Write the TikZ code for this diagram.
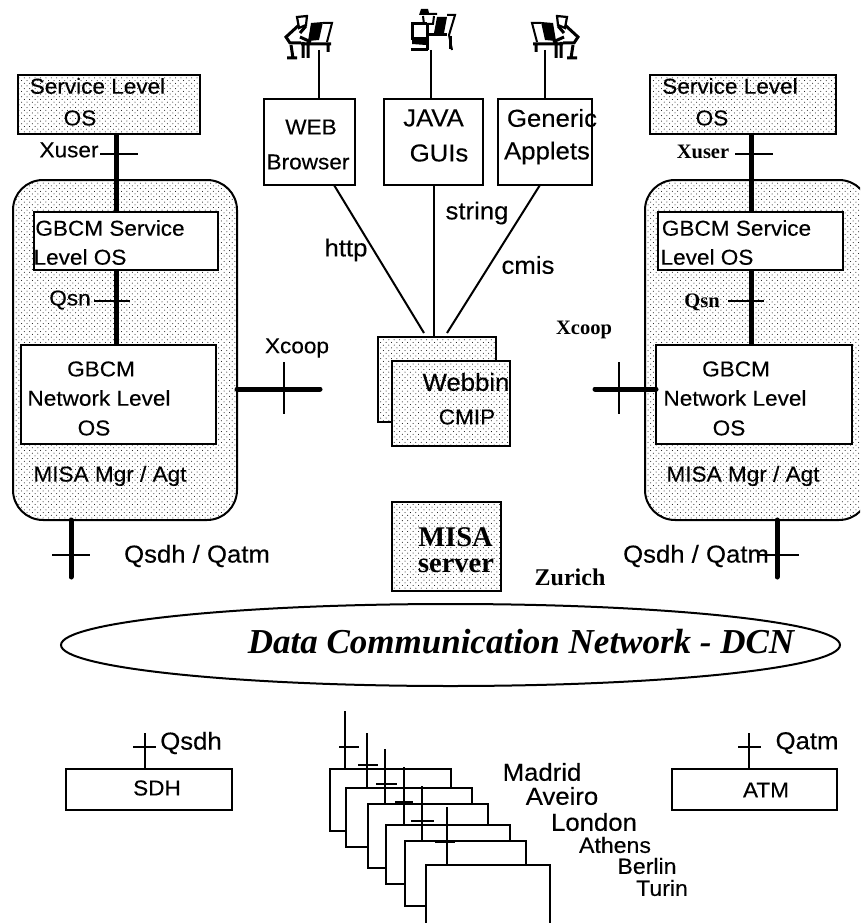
\documentclass[tikz,border=0pt]{standalone}
\usepackage{fontspec}
\setmainfont{Liberation Serif}
\newfontfamily\widesans[FakeStretch=1.05,FakeBold=0.25]{Liberation Sans}
\usetikzlibrary{patterns,shapes.geometric}
\pgfdeclarepatternformonly{misadots}{\pgfqpoint{-1pt}{-1pt}}{\pgfqpoint{4pt}{4pt}}{\pgfqpoint{5.4pt}{5.4pt}}{
  \pgfpathcircle{\pgfqpoint{0pt}{0pt}}{0.5pt}
  \pgfpathcircle{\pgfqpoint{2.7pt}{2.7pt}}{0.5pt}
  \pgfusepath{fill}
}
\tikzset{
  plainbox/.style={draw, line width=2pt, fill=white, inner sep=0pt, outer sep=0pt},
  dotbox/.style={plainbox, preaction={fill=white}, fill=none, pattern=misadots, pattern color=black},
  bus/.style={line width=5pt},
  wire/.style={line width=2pt},
  sanslabel/.style={inner sep=0pt, font=\widesans\fontsize{21.5}{22}\selectfont},
  biglabel/.style={inner sep=0pt, font=\widesans\fontsize{24.5}{25}\selectfont},
  citylabel/.style={inner sep=0pt, font=\widesans\fontsize{22}{22}\selectfont},
  seriflabel/.style={inner sep=0pt, font=\bfseries\fontsize{20.5}{22}\selectfont},
  operator/.pic={
    \fill (-8,-27) -- (4,-28) -- (0,-10) -- (-11,-9) -- cycle;
    \draw[line width=2pt] (4,-27) -- (13,-27) -- (8,-8);
    \draw[line width=2.2pt] (-22,-33) -- (-12,-34) -- (-13,-25) -- (-20,-22) -- cycle;
    \draw[line width=3pt] (-20,-25) -- (-33,-13) -- (-29,-7) -- (-18,-7) (-19,-17) -- (-13,-24) (-19,-13) -- (-8,-8);
    \draw[line width=3pt] (-18,-6) -- (12,-6) (-16,-8) -- (-16,8) (-11,-8) -- (-11,8) (9,-7) -- (9,2) (-28,-5) -- (-26,8) (-32,8) -- (-22,8);
  },
  operatorhat/.pic={
    \fill (6,-33) -- (16,-33) -- (13,-17) -- (3,-17) -- cycle;
    \fill (-10,-41) -- (-3,-41) -- (-2,-37) -- (6,-37) -- (6,-35) -- (-12,-35) -- cycle;
    \draw[line width=2pt] (16,-35) -- (24,-35) -- (18,-15) -- (21,0) (-8,-34) -- (-7,-26) (3,-34) -- (2,-26) -- (-4,-26);
    \draw[line width=3pt] (-4,-26) -- (-19,-26) -- (-19,-11) -- (-4,-11) (-4,-26) -- (-4,0) (-4,-15) -- (16,-15);
    \fill (-19,-12) -- (-5,-12) -- (-5,-5) -- (-19,-6) -- cycle;
    \draw[line width=3pt] (-20,0) -- (-3,0) (19,-14) -- (19,-1);
  }
}
\begin{document}
\begin{tikzpicture}[x=1pt,y=-1pt]
\clip (0,0) rectangle (860,923);
\fill[white] (0,0) rectangle (860,923);
% panels and boxes
\node[dotbox, rounded corners=30pt, minimum width=224pt, minimum height=340pt] (panelleft) at (125,350) {};
\node[dotbox, rounded corners=30pt, minimum width=224pt, minimum height=340pt] (panelright) at (757,350) {};
\foreach \n/\x/\y/\w/\h in {svcleft/109/104.5/182/59,svcright/743/104.5/186/59,webbinrear/437/379.5/118/85,webbinfront/451/403.5/118/85,misabox/446.5/546.5/109/89}
  \node[dotbox, minimum width=\w pt, minimum height=\h pt] (\n) at (\x,\y) {};
\foreach \n/\x/\y/\w/\h in {gbsvcleft/126/241/184/58,gbsvcright/750.5/241/185/58,gbnetleft/118.5/394.5/195/99,gbnetright/754/394.5/196/99,web/309.5/142/91/86,java/433.5/142/99/86,generic/545/142/94/86,sdh/149/789.5/166/41,atm/754.5/789.5/165/41}
  \node[plainbox, minimum width=\w pt, minimum height=\h pt] (\n) at (\x,\y) {};
\node[draw, ellipse, line width=2pt, inner sep=0pt, outer sep=0pt, minimum width=779pt, minimum height=82pt] (dcn) at (450.5,645) {};
% operators
\coordinate (opweb) at (319,50);
\coordinate (opjava) at (431,50);
\coordinate (opgeneric) at (545,50);
\pic at (opweb) {operator};
\pic at (opjava) {operatorhat};
\pic[xscale=-1] at (opgeneric) {operator};
\draw[wire] (opweb) -- (opweb |- web.north);
\draw[wire] (opjava) -- (opjava |- java.north);
\draw[wire] (opgeneric) -- (opgeneric |- generic.north);
\coordinate (httpin) at (424,333);
\coordinate (cmisin) at (447,333);
\draw[wire] (334,185) -- (httpin);
\draw[wire] (java.south) -- (java.south |- webbinrear.north);
\draw[wire] (540,185) -- (cmisin);
% buses with their ticks
\foreach \s/\m/\b/\e/\x/\l/\r/\q/\t/\u/\v in {left/svcleft/gbsvcleft/gbnetleft/116/100/138/154/94/130/301,right/svcright/gbsvcright/gbnetright/751/735/773/154/728/764/301}{
  \coordinate (bus\s) at (\x,0);
  \draw[bus] (\m.south -| bus\s) -- (\b.north -| bus\s);
  \draw[bus] (\b.south -| bus\s) -- (\e.north -| bus\s);
  \draw[wire] (\l,\q) -- (\r,\q);
  \draw[wire] (\t,\v) -- (\u,\v);
}
\coordinate (xcoopleft) at (320,389);
\coordinate (xcoopright) at (595,389);
\draw[bus, line cap=round] (panelleft.east |- xcoopleft) -- (xcoopleft);
\draw[bus, line cap=round] (xcoopright) -- (gbnetright.west |- xcoopright);
\draw[wire] (284,362) -- (284,414);
\draw[wire] (619,362) -- (619,414);
\coordinate (qleft) at (71,577);
\coordinate (qright) at (777,577);
\draw[bus, line cap=round] (panelleft.south -| qleft) -- (qleft);
\draw[bus, line cap=round] (panelright.south -| qright) -- (qright);
\draw[wire] (52,555) -- (90,555);
\draw[wire] (757,555) -- (799,555);
\coordinate (qsdhtop) at (145,733);
\coordinate (qatmtop) at (749,733);
\draw[wire] (qsdhtop) -- (qsdhtop |- sdh.north);
\draw[wire] (qatmtop) -- (qatmtop |- atm.north);
\draw[wire] (133,747) -- (156,747);
\draw[wire] (738,747) -- (761,747);
% sites
\foreach \i/\x/\y/\w/\h in {1/390.5/800/121/62,2/409/817.5/126/59,3/428/836/120/64,4/448/854.5/124/59,5/465.5/873.5/121/65,6/488/900/124/70}
  \node[plainbox, minimum width=\w pt, minimum height=\h pt] (site\i) at (\x,\y) {};
\foreach \i/\x/\y/\l/\r/\q in {1/345/711/339/359/747,2/367/733/358/378/765,3/385/749/376/397/784,4/404/767/395/413/802,5/422/786/411/434/821,6/447/807/435/455/842}{
  \coordinate (sitetop\i) at (\x,\y);
  \draw[wire] (sitetop\i) -- (sitetop\i |- site\i.north);
  \draw[wire] (\l,\q) -- (\r,\q);
}
% texts
\foreach \n/\x/\y/\l in {tsvcl/97.5/86/Service Level,tosl/80/118/OS,txul/69/150/Xuser,tgbl/110/228/GBCM Service,tlvl/80/257/Level OS,tqsl/70/300/Qsn,tgnl/101/369/GBCM,tnwl/99/398/Network Level,tonl/94/428/OS,tmml/110/476/{MISA Mgr / Agt},txcl/297/348/Xcoop,tsvr/730/86/Service Level,tosr/712/118/OS,tgbr/736.5/228/GBCM Service,tlvr/707/257/Level OS,tgnr/736/369/GBCM,tnwr/735/398/Network Level,tonr/729/428/OS,tmmr/743/476/{MISA Mgr / Agt},twb/311/127/WEB,tbr/308/162/Browser,tcmp/467/417/CMIP,tsh/157/788/SDH,tat/766/790/ATM}
  \node[sanslabel] (\n) at (\x,\y) {\l};
\foreach \n/\x/\y/\l in {tqql/197/556/{Qsdh / Qatm},tqqr/696/556/{Qsdh / Qatm},tjv/433.5/118/JAVA,tgu/439/153/GUIs,tge/552/118/Generic,tap/547/153/Applets,thttp/346/250/http,tstr/477/213/string,tcm/528/265/cmis,twbn/466/382/Webbin,tsd/191/743/Qsdh,tqa/807/743/Qatm,tmad/542/772/Madrid,tave/562/796/Aveiro,tlon/594/822/London}
  \node[biglabel] (\n) at (\x,\y) {\l};
\foreach \n/\x/\y/\l in {tath/615/845/Athens,tber/647/866/Berlin,ttur/662/888/Turin}
  \node[citylabel] (\n) at (\x,\y) {\l};
\foreach \n/\x/\y/\l in {txur/703/152/Xuser,tqsr/702/302/Qsn,txcr/584/330/Xcoop}
  \node[seriflabel] (\n) at (\x,\y) {\l};
\node[seriflabel, font=\bfseries\fontsize{24}{26}\selectfont] (tzur) at (570,577) {Zurich};
\node[seriflabel, font=\bfseries\fontsize{28.5}{30}\selectfont] (tmis) at (455.5,537) {MISA};
\node[seriflabel, font=\bfseries\fontsize{28.5}{30}\selectfont] (tsrv) at (456,566) {server};
\node[seriflabel, font=\bfseries\itshape\fontsize{35}{37}\selectfont] (tdcn) at (521,642) {Data Communication Network - DCN};
\end{tikzpicture}
\end{document}
